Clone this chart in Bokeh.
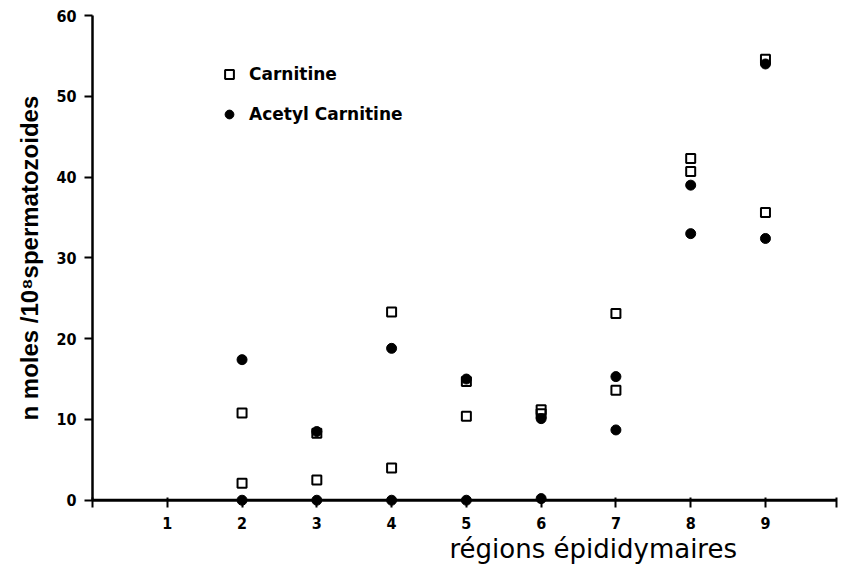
from bokeh.plotting import figure
from bokeh.models import Range1d, FixedTicker, Legend, LegendItem, Span, Title
from bokeh.embed import file_html
from bokeh.resources import INLINE

# --- data ---
regions_carnitine = [2, 2, 3, 3, 4, 4, 5, 5, 6, 6, 7, 7, 8, 8, 9, 9]
carnitine = [10.8, 2.1, 8.3, 2.5, 23.3, 4.0, 14.7, 10.4, 11.2, 10.7, 23.1, 13.6, 42.3, 40.7, 54.6, 35.6]
regions_acetyl = [2, 2, 3, 3, 4, 4, 5, 5, 6, 6, 7, 7, 8, 8, 9, 9]
acetyl_carnitine = [17.4, 0.0, 8.5, 0.0, 18.8, 0.0, 15.0, 0.0, 10.1, 0.2, 15.3, 8.7, 39.0, 33.0, 54.0, 32.4]
x_ticks = [0, 1, 2, 3, 4, 5, 6, 7, 8, 9, 9.95]
x_tick_labels = {0: "", 1: "1", 2: "2", 3: "3", 4: "4", 5: "5", 6: "6",
                 7: "7", 8: "8", 9: "9", 9.95: ""}
y_ticks = [0, 10, 20, 30, 40, 50, 60]

TICK_FONT = "DejaVu Sans Condensed"

p = figure(width=844, height=569,
           x_range=Range1d(0, 9.95), y_range=Range1d(-0.9, 60),
           output_backend="svg", toolbar_location=None,
           min_border_left=92, min_border_right=8,
           min_border_top=15, min_border_bottom=62)
p.grid.visible = False
p.outline_line_color = None
p.background_fill_color = "white"
p.border_fill_color = "white"

# x axis: ticks drawn up from the frame bottom so they cross the y=0 line
xa = p.xaxis[0]
xa.ticker = FixedTicker(ticks=x_ticks)
xa.major_label_overrides = x_tick_labels
xa.axis_line_color = None
xa.major_tick_line_width = 2
xa.major_tick_line_color = "black"
xa.major_tick_out = 0
xa.major_tick_in = 10
xa.minor_tick_line_color = None
xa.major_label_standoff = 9
xa.major_label_text_font = TICK_FONT
xa.major_label_text_font_style = "bold"
xa.major_label_text_font_size = "16px"
xa.major_label_text_color = "black"

# the x axis line itself, at y = 0
p.add_layout(Span(location=0, dimension="width", line_color="black",
                  line_width=3))

# y axis
ya = p.yaxis[0]
ya.bounds = (0, 60)
ya.ticker = FixedTicker(ticks=y_ticks)
ya.axis_line_width = 2.5
ya.axis_line_color = "black"
ya.major_tick_line_width = 2
ya.major_tick_out = 8
ya.major_tick_in = 0
ya.minor_tick_line_color = None
ya.major_label_standoff = 8
ya.major_label_text_font = TICK_FONT
ya.major_label_text_font_style = "bold"
ya.major_label_text_font_size = "16px"
ya.major_label_text_color = "black"

# data
sq = p.scatter(regions_carnitine, carnitine, marker="square", size=9,
               fill_alpha=0, line_color="black", line_width=2)
ci = p.scatter(regions_acetyl, acetyl_carnitine, marker="circle", size=10,
               fill_color="black", line_color="black")

legend = Legend(items=[LegendItem(label="Carnitine", renderers=[sq]),
                       LegendItem(label="Acetyl Carnitine", renderers=[ci])],
                location=(126, 382), orientation="vertical",
                padding=0, margin=0, spacing=18,
                glyph_width=22, glyph_height=22, label_height=22,
                label_standoff=9,
                border_line_alpha=0, background_fill_alpha=0,
                label_text_font="DejaVu Sans", label_text_font_style="bold",
                label_text_font_size="17px", label_text_color="black",
                label_text_baseline="middle")
p.add_layout(legend)

# axis titles
p.add_layout(Title(text="régions épididymaires", align="left", offset=357,
                   text_font="DejaVu Sans", text_font_style="normal",
                   text_font_size="26px", text_color="black",
                   standoff=0), "below")
p.add_layout(Title(text="n moles /10⁸spermatozoides", align="left", offset=87,
                   text_font="Liberation Sans", text_font_style="bold",
                   text_font_size="24px", text_color="black",
                   standoff=21), "left")

open("out.html", "w").write(file_html(p, INLINE))
